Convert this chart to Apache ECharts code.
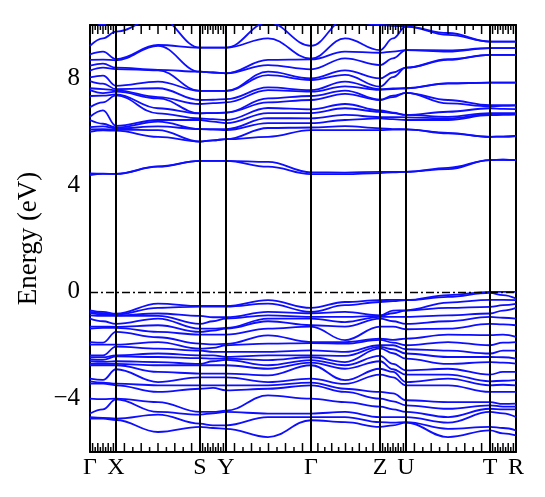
<!DOCTYPE html>
<html>
<head>
<meta charset="utf-8">
<script src="https://cdn.jsdelivr.net/npm/echarts@6/dist/echarts.min.js"></script>
<style>
html, body { margin: 0; padding: 0; background: #fff; }
#chart { width: 545px; height: 497px; }
</style>
</head>
<body>
<div id="chart"></div>
<script>
// high-symmetry points along the k-path
var kLabels = ['Γ', 'X', 'S', 'Y', 'Γ', 'Z', 'U', 'T', 'R'];
var kTicks = [0, 26, 110, 136, 221, 290, 316, 400, 426];
// sampled k positions (high-symmetry points + midpoints)
var kPath = [0, 13, 26, 68, 110, 123, 136, 178, 221, 255, 290, 303, 316, 358, 400, 413, 426];

// conduction bands, energies (eV) at each k sample, lowest first
var condG1 = [4.38, 4.44, 6.0, 6.09, 6.17, 6.44, 6.56, 6.92, 7.34, 7.56, 7.63, 7.9, 8.04, 8.29, 8.48, 8.69, 8.9, 9.22, 10.3, 10.5];
var condGX = [4.42, 4.43, 6.05, 6.1, 6.2, 6.3, 6.8, 7.1, 7.35, 7.45, 7.6, 7.8, 8.1, 8.4, 8.55, 8.7, 9.0, 9.5, 10.0, 10.5];
var condX  = [4.42, 4.42, 6.04, 6.08, 6.12, 6.16, 6.22, 7.36, 7.4, 7.5, 7.55, 7.6, 7.72, 8.35, 8.4, 8.68, 8.72, 9.75, 10.4, 10.6];
var condXS = [4.69, 4.7, 5.81, 6.06, 6.2, 6.38, 6.44, 6.69, 6.88, 7.25, 7.3, 7.63, 7.88, 8.3, 8.32, 9.22, 9.25, 10.3, 10.5, 10.7];
var condS  = [4.91, 4.91, 5.63, 5.63, 6.1, 6.1, 6.44, 6.5, 6.69, 6.69, 7.04, 7.19, 7.53, 7.53, 8.25, 8.25, 9.15, 9.15, 10.5, 10.6];
var condSY = [4.91, 4.91, 5.68, 5.68, 6.08, 6.1, 6.38, 6.47, 6.7, 6.7, 7.07, 7.2, 7.53, 7.53, 8.22, 8.22, 9.15, 9.15, 10.5, 10.6];
var condY  = [4.91, 4.91, 5.72, 5.72, 6.06, 6.1, 6.32, 6.44, 6.72, 6.72, 7.1, 7.22, 7.53, 7.53, 8.19, 8.19, 9.15, 9.15, 10.4, 10.6];
var condYG = [4.69, 4.87, 5.81, 6.14, 6.32, 6.51, 6.7, 6.89, 7.1, 7.25, 7.56, 7.66, 8.12, 8.25, 8.5, 8.69, 9.5, 10.1, 10.3, 10.6];
var condG2 = [4.41, 4.48, 6.06, 6.16, 6.32, 6.5, 6.7, 6.84, 7.19, 7.34, 7.5, 7.56, 7.94, 8.0, 8.34, 8.71, 8.74, 9.22, 10.4, 10.6];
var condGZ = [4.41, 4.47, 6.06, 6.21, 6.44, 6.63, 6.88, 7.04, 7.42, 7.54, 7.7, 7.88, 8.13, 8.3, 8.75, 9.0, 9.5, 10.2, 10.5, 10.7];
var condZ  = [4.45, 4.5, 6.06, 6.13, 6.5, 6.55, 6.75, 6.8, 7.19, 7.2, 7.57, 7.6, 7.69, 8.0, 8.5, 8.96, 9.06, 10.0, 10.1, 10.6];
var condZU = [4.48, 4.5, 6.08, 6.1, 6.47, 6.55, 6.7, 6.72, 7.3, 7.35, 7.6, 7.62, 8.05, 8.22, 8.75, 9.0, 9.5, 9.97, 10.2, 10.6];
var condU  = [4.5, 4.5, 6.09, 6.09, 6.44, 6.54, 6.63, 6.63, 7.46, 7.46, 7.63, 7.63, 8.4, 8.4, 9.06, 9.06, 9.94, 9.94, 10.4, 10.6];
var condUT = [4.6, 4.65, 5.94, 5.96, 6.44, 6.5, 6.56, 6.75, 7.06, 7.19, 7.8, 7.82, 8.69, 8.72, 9.0, 9.05, 9.63, 9.7, 10.4, 10.6];
var condT  = [4.94, 4.94, 5.81, 5.81, 6.62, 6.66, 6.7, 6.88, 6.95, 7.0, 7.84, 7.84, 8.88, 8.88, 9.13, 9.13, 9.38, 9.38, 10.4, 10.6];
var condTR = [4.95, 4.95, 5.82, 5.82, 6.63, 6.66, 6.7, 6.86, 6.97, 7.0, 7.84, 7.84, 8.88, 8.88, 9.13, 9.13, 9.38, 9.38, 10.4, 10.6];
var condR  = [4.94, 4.94, 5.84, 5.84, 6.64, 6.66, 6.7, 6.85, 6.98, 7.0, 7.84, 7.84, 8.88, 8.88, 9.13, 9.13, 9.38, 9.38, 10.4, 10.6];

// valence bands
var valG1 = [-4.75, -4.69, -4.56, -4.0, -3.44, -3.35, -3.25, -2.75, -2.7, -2.6, -2.53, -2.45, -2.38, -1.98, -1.88, -1.38, -1.3, -1.0, -0.88, -0.8, -0.75, -0.69];
var valGX = [-4.75, -4.72, -4.4, -4.02, -3.44, -3.4, -3.3, -2.75, -2.7, -2.62, -2.55, -2.45, -2.38, -1.98, -1.9, -1.35, -1.3, -1.1, -0.9, -0.85, -0.8, -0.75];
var valX  = [-4.8, -4.75, -4.03, -4.0, -3.5, -3.44, -2.9, -2.75, -2.7, -2.6, -2.42, -2.38, -2.05, -1.98, -1.5, -1.35, -1.31, -1.2, -0.9, -0.88, -0.85, -0.82];
var valXS = [-5.25, -4.6, -4.5, -4.13, -3.75, -3.5, -3.38, -3.0, -2.75, -2.63, -2.44, -2.31, -2.13, -1.88, -1.7, -1.5, -1.25, -1.0, -0.9, -0.81, -0.6, -0.44];
var valS  = [-5.06, -4.94, -4.6, -4.5, -3.63, -3.5, -3.2, -3.06, -2.75, -2.7, -2.48, -2.38, -2.2, -2.13, -1.94, -1.6, -1.5, -1.38, -1.2, -0.9, -0.55, -0.53];
var valSY = [-5.1, -5.0, -4.55, -4.5, -3.6, -3.5, -3.2, -3.06, -2.75, -2.6, -2.5, -2.38, -2.25, -2.1, -1.97, -1.6, -1.45, -1.38, -1.1, -0.95, -0.55, -0.53];
var valY  = [-5.13, -5.0, -4.5, -4.45, -3.69, -3.5, -3.2, -3.06, -2.75, -2.55, -2.5, -2.44, -2.25, -2.0, -1.95, -1.6, -1.38, -1.35, -1.0, -0.95, -0.55, -0.53];
var valYG = [-5.44, -4.69, -4.56, -3.88, -3.63, -3.5, -3.38, -3.13, -2.88, -2.75, -2.56, -2.38, -2.25, -1.94, -1.63, -1.38, -1.1, -1.0, -0.88, -0.75, -0.44, -0.31];
var valG2 = [-4.81, -4.69, -4.56, -4.0, -3.5, -3.4, -3.25, -2.75, -2.65, -2.56, -2.45, -2.38, -2.19, -1.92, -1.88, -1.3, -1.25, -1.0, -0.94, -0.8, -0.75, -0.6];
var valGZ = [-4.88, -4.69, -4.5, -4.13, -3.75, -3.63, -3.45, -3.31, -2.88, -2.75, -2.63, -2.4, -2.25, -1.94, -1.88, -1.81, -1.3, -1.13, -0.94, -0.75, -0.5, -0.38];
var valZ  = [-5.06, -4.88, -4.69, -4.3, -4.0, -3.75, -3.1, -2.88, -2.6, -2.4, -2.12, -2.06, -2.0, -1.8, -1.75, -1.3, -1.0, -0.94, -0.9, -0.88, -0.38, -0.31];
var valZU = [-5.0, -4.9, -4.69, -4.4, -4.1, -3.8, -3.2, -3.0, -2.9, -2.7, -2.3, -2.15, -2.0, -1.9, -1.8, -1.3, -1.1, -0.94, -0.8, -0.7, -0.35, -0.3];
var valU  = [-4.9, -4.88, -4.69, -4.5, -4.25, -4.06, -3.5, -3.38, -3.1, -2.94, -2.5, -2.31, -2.15, -2.0, -1.75, -1.4, -1.2, -0.94, -0.7, -0.69, -0.31, -0.31];
var valUT = [-5.44, -5.13, -4.9, -4.69, -4.38, -4.13, -3.5, -3.25, -3.1, -2.88, -2.7, -2.44, -2.2, -1.88, -1.6, -1.38, -1.1, -0.88, -0.6, -0.4, -0.19, -0.12];
var valT  = [-5.19, -5.06, -4.5, -4.38, -4.25, -4.13, -3.75, -3.5, -3.35, -3.1, -2.63, -2.44, -2.31, -2.0, -1.62, -1.2, -0.94, -0.81, -0.56, -0.3, -0.04, 0.0];
var valTR = [-5.3, -5.1, -4.55, -4.4, -4.3, -4.2, -3.75, -3.48, -3.33, -3.0, -2.65, -2.45, -2.2, -1.9, -1.6, -1.22, -0.97, -0.7, -0.5, -0.3, -0.12, 0.0];
var valR  = [-5.38, -5.19, -4.69, -4.4, -4.3, -4.19, -3.75, -3.5, -3.31, -3.0, -2.69, -2.5, -2.2, -1.88, -1.69, -1.25, -1.0, -0.6, -0.45, -0.31, -0.25, 0.0];

var condCols = [condG1, condGX, condX, condXS, condS, condSY, condY, condYG, condG2, condGZ, condZ, condZU, condU, condUT, condT, condTR, condR];
var valCols = [valG1, valGX, valX, valXS, valS, valSY, valY, valYG, valG2, valGZ, valZ, valZU, valU, valUT, valT, valTR, valR];

var serif = "'Liberation Serif', 'Times New Roman', serif";
var bandColor = '#0d0dff';

var myChart = echarts.init(document.getElementById('chart'));

function bandSeries(cols) {
    var out = [];
    for (var b = 0; b < cols[0].length; b++) {
        var pts = [];
        for (var i = 0; i < kPath.length; i++) {
            pts.push([kPath[i], cols[i][b]]);
        }
        out.push({
            type: 'line',
            data: pts,
            smooth: 0.4,
            smoothMonotone: 'x',
            showSymbol: false,
            clip: true,
            silent: true,
            lineStyle: { color: bandColor, width: 1.8 },
            z: 3
        });
    }
    return out;
}

// minor ticks on top/bottom frame: 10 subdivisions per segment
var tickData = [];
for (var s = 0; s < kTicks.length - 1; s++) {
    for (var j = 1; j < 10; j++) {
        tickData.push([kTicks[s] + (kTicks[s + 1] - kTicks[s]) * j / 10, j % 2 ? 9 : 5]);
    }
}

var series = [];
series.push({
    type: 'custom',
    silent: true,
    data: tickData,
    z: 5,
    renderItem: function (params, api) {
        var k = api.value(0), len = api.value(1);
        var b = api.coord([k, -6]), t = api.coord([k, 10]);
        return {
            type: 'group',
            children: [
                { type: 'line', shape: { x1: b[0], y1: b[1], x2: b[0], y2: b[1] - len }, style: { stroke: '#000', lineWidth: 1.5 } },
                { type: 'line', shape: { x1: t[0], y1: t[1], x2: t[0], y2: t[1] + len }, style: { stroke: '#000', lineWidth: 1.5 } }
            ]
        };
    }
});
series.push({
    type: 'line',
    data: [],
    silent: true,
    markLine: {
        symbol: 'none',
        silent: true,
        animation: false,
        label: { show: false },
        data: kTicks.slice(1, -1).map(function (k) {
            return { xAxis: k, lineStyle: { color: '#000', width: 2, type: 'solid' } };
        }).concat([{ yAxis: 0, lineStyle: { color: '#000', width: 1.3, type: [8, 3, 2, 3] } }])
    },
    z: 4
});
series = series.concat(bandSeries(condCols)).concat(bandSeries(valCols));

var frameLine = { show: true, onZero: false, lineStyle: { color: '#000', width: 2 } };

myChart.setOption({
    animation: false,
    grid: { left: 90, right: 29, top: 25, bottom: 45 },
    xAxis: [{
        type: 'value', min: 0, max: 426, position: 'bottom',
        axisLine: frameLine,
        axisTick: { show: false },
        splitLine: { show: false },
        axisLabel: {
            customValues: kTicks,
            showMinLabel: true, showMaxLabel: true,
            formatter: function (v) { return kLabels[kTicks.indexOf(v)]; },
            fontFamily: serif, fontSize: 24, color: '#000', margin: 4
        }
    }, {
        type: 'value', min: 0, max: 426, position: 'top',
        axisLine: frameLine, axisTick: { show: false }, axisLabel: { show: false }, splitLine: { show: false }
    }],
    yAxis: [{
        type: 'value', min: -6, max: 10,
        name: 'Energy (eV)', nameLocation: 'middle', nameGap: 47,
        nameTextStyle: { fontFamily: serif, fontSize: 27, color: '#000' },
        axisLine: frameLine,
        axisTick: { show: false },
        splitLine: { show: false },
        axisLabel: {
            customValues: [-4, 0, 4, 8],
            formatter: function (v) { return v < 0 ? '\u2212' + (-v) : String(v); },
            fontFamily: serif, fontSize: 25, color: '#000', margin: 10
        }
    }, {
        type: 'value', min: -6, max: 10, position: 'right',
        axisLine: frameLine, axisTick: { show: false }, axisLabel: { show: false }, splitLine: { show: false }
    }],
    series: series
});

window.addEventListener('resize', function () {
    myChart.resize();
});
</script>
</body>
</html>
